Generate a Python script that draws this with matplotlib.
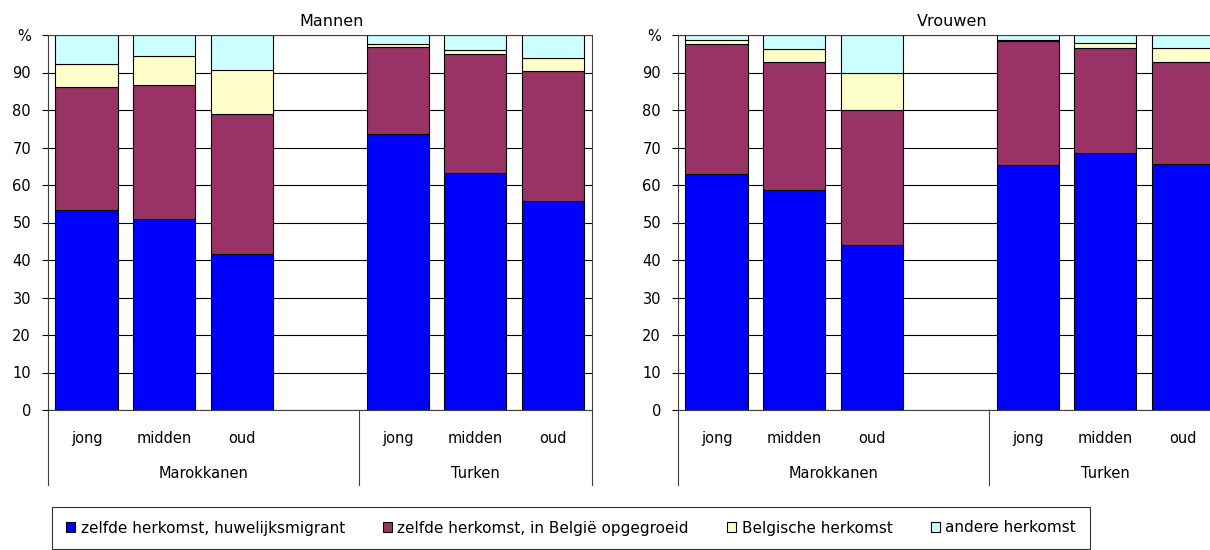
import numpy as np
import matplotlib.pyplot as plt
import matplotlib.transforms as mtrans

leeftijd = ['jong', 'midden', 'oud']
groepen = ['Marokkanen', 'Turken']
reeksen = ['zelfde herkomst, huwelijksmigrant', 'zelfde herkomst, in België opgegroeid',
           'Belgische herkomst', 'andere herkomst']
kleuren = ['#0000FF', '#993366', '#FFFFCC', '#CCFFFF']

# volgorde: Marokkanen jong/midden/oud, Turken jong/midden/oud
man_migrant = [53.3, 51.0, 41.7, 73.5, 63.1, 55.8]
man_opgegroeid = [32.8, 35.6, 37.2, 23.4, 31.8, 34.5]
man_belgisch = [6.1, 7.7, 11.9, 0.6, 1.1, 3.5]
man_ander = [7.8, 5.7, 9.2, 2.5, 4.0, 6.2]

vrouw_migrant = [62.9, 58.7, 44.1, 65.4, 68.5, 65.7]
vrouw_opgegroeid = [34.7, 34.2, 35.8, 33.1, 28.1, 27.1]
vrouw_belgisch = [1.2, 3.4, 10.1, 0.3, 1.4, 3.8]
vrouw_ander = [1.2, 3.7, 10.0, 1.2, 2.0, 3.4]

# lege plaats tussen de twee groepen
xpos = np.array([0, 1, 2, 4, 5, 6])

W, H = 1210, 550


def paneel(ax, waarden):
	bodem = np.zeros(len(xpos))
	for vals, kleur, naam in zip(waarden, kleuren, reeksen):
		ax.bar(xpos, vals, 0.8, bottom=bodem, color=kleur, edgecolor='black',
		       linewidth=0.8, label=naam)
		bodem += np.array(vals)
	ax.set_xlim(-0.5, 6.5)
	ax.set_ylim(0, 100)
	ax.set_yticks(range(0, 101, 10))
	ax.set_yticklabels([str(v) for v in range(0, 100, 10)] + ['%'])
	ax.tick_params(axis='y', length=4, width=0.8, pad=8, labelsize=10.5, colors='black')
	ax.set_xticks([])
	ax.set_axisbelow(True)
	ax.yaxis.grid(True, color='black', linewidth=0.8)
	for s in ax.spines.values():
		s.set_color('#404040')
		s.set_linewidth(0.8)
	trans = mtrans.blended_transform_factory(ax.transData, ax.transAxes)
	for i, xv in enumerate(xpos):
		ax.text(xv, -0.075, leeftijd[i % 3], transform=trans, ha='center', va='center', fontsize=10.5)
	for xv, g in zip([1.5, 5.0], groepen):
		ax.text(xv, -0.168, g, transform=trans, ha='center', va='center', fontsize=10.5)
	for xv in [-0.5, 3.5, 6.5]:
		ax.plot([xv, xv], [0, -0.2], transform=trans, color='#404040', lw=0.8, clip_on=False)


fig = plt.figure(figsize=(W / 100, H / 100), dpi=100)
breedte = (592 - 47.7) / W
ax1 = fig.add_axes([47.7 / W, 140 / H, breedte, 375 / H])
ax2 = fig.add_axes([677.7 / W, 140 / H, breedte, 375 / H])

paneel(ax1, [man_migrant, man_opgegroeid, man_belgisch, man_ander])
paneel(ax2, [vrouw_migrant, vrouw_opgegroeid, vrouw_belgisch, vrouw_ander])

fig.text(332 / W, 1 - 22 / H, 'Mannen', ha='center', va='center', fontsize=11.5)
fig.text(952 / W, 1 - 22 / H, 'Vrouwen', ha='center', va='center', fontsize=11.5)

handles, labels = ax1.get_legend_handles_labels()
leg = fig.legend(handles, labels, loc='center', bbox_to_anchor=(571 / W, 1 - 528 / H),
                 ncol=4, fontsize=11, frameon=True, fancybox=False,
                 handlelength=0.6, handleheight=0.6, handletextpad=0.35,
                 columnspacing=2.5, borderpad=0.9)
leg.get_frame().set_edgecolor('black')
leg.get_frame().set_linewidth(0.8)

fig.savefig('out.png', dpi=100)
